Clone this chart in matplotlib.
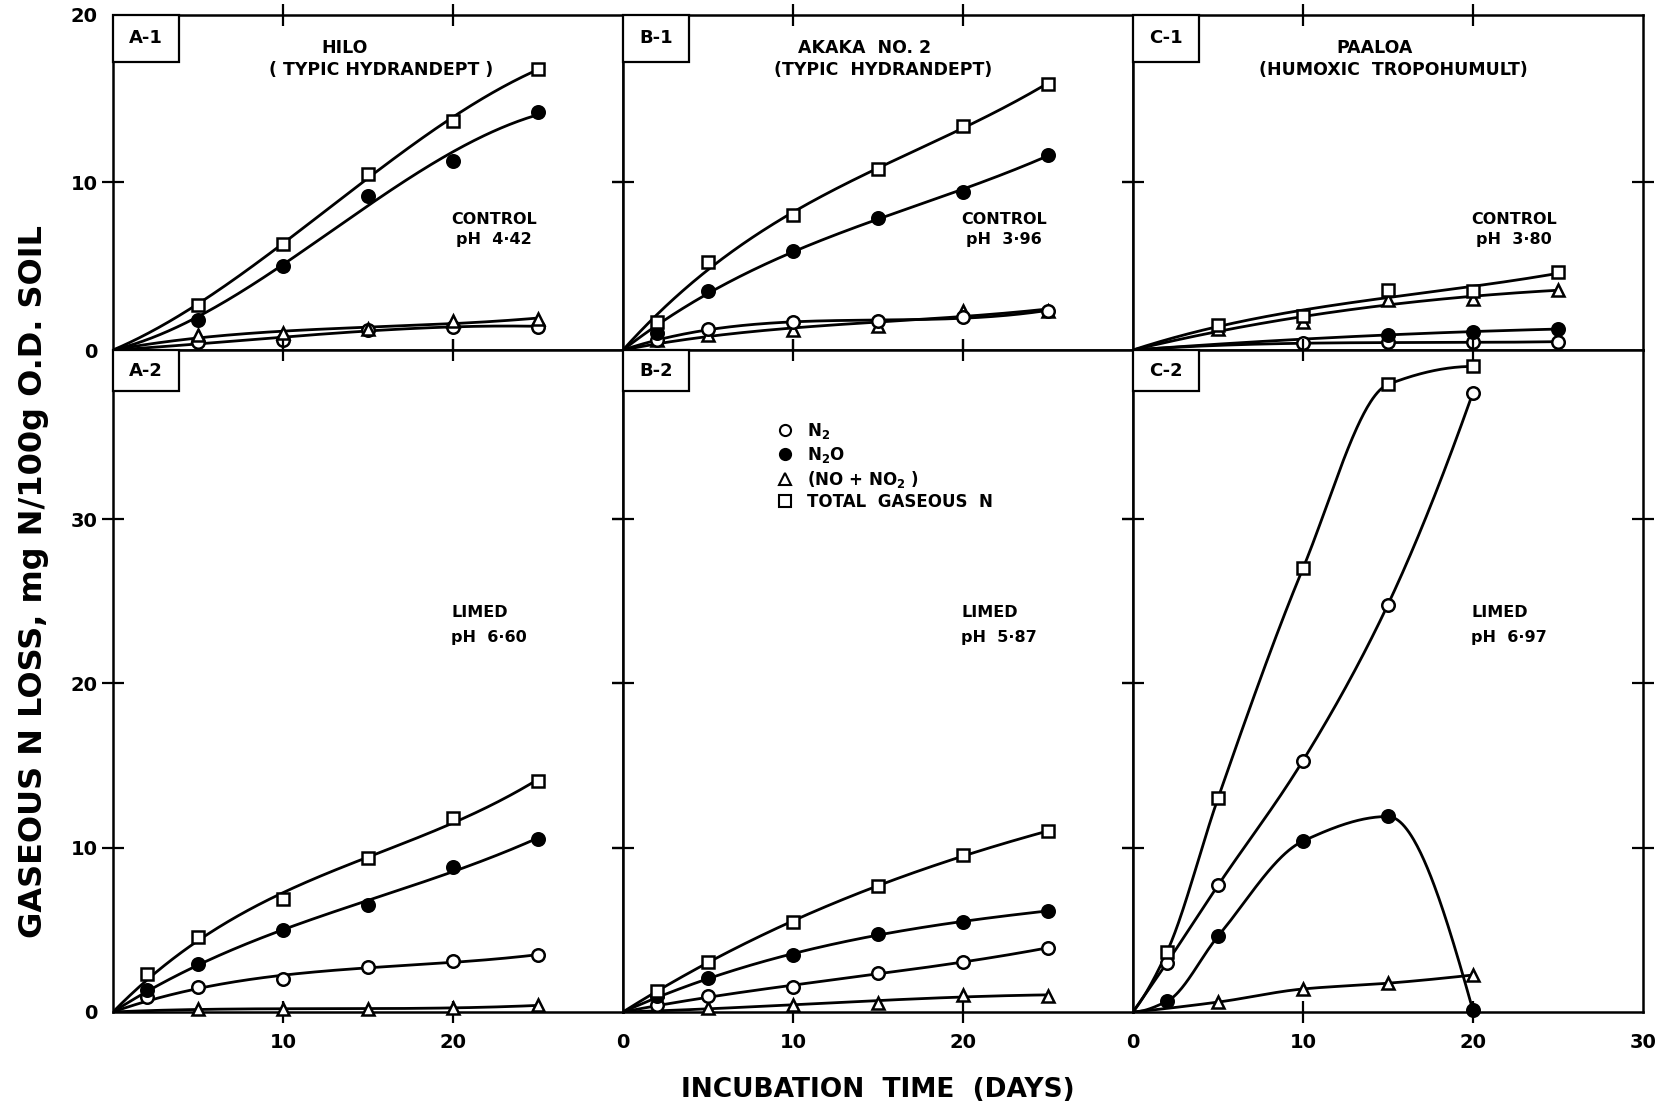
"""
Gaseous N loss from three Hawaiian soils (control vs limed), 6-panel figure.
"""
import matplotlib
matplotlib.use("Agg")
import matplotlib.pyplot as plt
import numpy as np
from matplotlib.lines import Line2D
from matplotlib.patches import Rectangle

plt.rcParams['font.family'] = ['DejaVu Sans']
plt.rcParams['mathtext.default'] = 'bf'

# ---- data (days, mg N / 100 g O.D. soil) ----
# A-1  Hilo, control
a1_days = [5, 10, 15, 20, 25]
a1_n2 = [0.5, 0.6, 1.2, 1.4, 1.4]
a1_n2o = [1.8, 5.0, 9.2, 11.3, 14.2]
a1_nox = [0.9, 1.0, 1.25, 1.75, 1.85]
a1_total = [2.7, 6.3, 10.5, 13.7, 16.8]

# B-1  Akaka No. 2, control
b1_days = [2, 5, 10, 15, 20, 25]
b1_n2 = [0.6, 1.25, 1.65, 1.75, 1.95, 2.35]
b1_n2o = [1.0, 3.55, 5.9, 7.9, 9.45, 11.65]
b1_nox = [0.6, 0.9, 1.2, 1.45, 2.3, 2.35]
b1_total = [1.65, 5.25, 8.05, 10.8, 13.35, 15.9]

# C-1  Paaloa, control
c1_days = [5, 10, 15, 20, 25]
c1_total = [1.5, 2.05, 3.6, 3.5, 4.65]
c1_nox = [1.25, 1.7, 3.0, 3.05, 3.6]
c1_n2o_days = [15, 20, 25]
c1_n2o = [0.9, 1.1, 1.25]
c1_n2_days = [10, 15, 20, 25]
c1_n2 = [0.4, 0.45, 0.45, 0.5]

# A-2  Hilo, limed
a2_days = [2, 5, 10, 15, 20, 25]
a2_total = [2.3, 4.55, 6.9, 9.35, 11.8, 14.05]
a2_n2o = [1.35, 2.95, 5.0, 6.5, 8.85, 10.5]
a2_n2 = [0.9, 1.5, 2.0, 2.75, 3.1, 3.45]
a2_nox_days = [5, 10, 15, 20, 25]
a2_nox = [0.15, 0.2, 0.2, 0.25, 0.4]

# B-2  Akaka No. 2, limed
b2_days = [2, 5, 10, 15, 20, 25]
b2_total = [1.3, 3.05, 5.5, 7.65, 9.55, 11.0]
b2_n2o = [0.95, 2.05, 3.45, 4.75, 5.5, 6.15]
b2_n2 = [0.4, 0.95, 1.55, 2.35, 3.05, 3.9]
b2_nox_days = [5, 10, 15, 20, 25]
b2_nox = [0.25, 0.45, 0.55, 1.05, 1.0]

# C-2  Paaloa, limed
c2_days = [2, 5, 10, 15, 20]
c2_total = [3.65, 13.0, 27.0, 38.2, 39.3]
c2_n2 = [3.0, 7.7, 15.3, 24.8, 37.7]
c2_n2o = [0.65, 4.6, 10.4, 11.9, 0.1]
c2_nox_days = [5, 10, 15, 20]
c2_nox = [0.6, 1.4, 1.75, 2.25]

panel_tags = ['A-1', 'B-1', 'C-1', 'A-2', 'B-2', 'C-2']
soil_names = ['HILO', 'AKAKA  NO. 2', 'PAALOA']
soil_groups = ['( TYPIC HYDRANDEPT )', '(TYPIC  HYDRANDEPT)', '(HUMOXIC  TROPOHUMULT)']
control_ph = ['pH  4·42', 'pH  3·96', 'pH  3·80']
limed_ph = ['pH  6·60', 'pH  5·87', 'pH  6·97']
legend_labels = ['N$_2$', 'N$_2$O', '(NO + NO$_2$ )', 'TOTAL  GASEOUS  N']

STYLE = {
    'n2': dict(marker='o', mfc='white', ms=9),
    'n2o': dict(marker='o', mfc='black', ms=9),
    'nox': dict(marker='^', mfc='white', ms=9),
    'total': dict(marker='s', mfc='white', ms=9),
}


def pchip(x, y, num=300):
    """Monotone cubic curve through the points (Fritsch-Carlson)."""
    x = np.asarray(x, float)
    y = np.asarray(y, float)
    h = np.diff(x)
    d = np.diff(y) / h
    n = len(x)
    m = np.zeros(n)
    for k in range(1, n - 1):
        if d[k - 1] * d[k] > 0:
            w1 = 2 * h[k] + h[k - 1]
            w2 = h[k] + 2 * h[k - 1]
            m[k] = (w1 + w2) / (w1 / d[k - 1] + w2 / d[k])
    m[0] = ((2 * h[0] + h[1]) * d[0] - h[0] * d[1]) / (h[0] + h[1])
    if np.sign(m[0]) != np.sign(d[0]):
        m[0] = 0
    m[-1] = ((2 * h[-1] + h[-2]) * d[-1] - h[-1] * d[-2]) / (h[-1] + h[-2])
    if np.sign(m[-1]) != np.sign(d[-1]):
        m[-1] = 0
    xs = np.linspace(x[0], x[-1], num)
    i = np.clip(np.searchsorted(x, xs) - 1, 0, n - 2)
    t = (xs - x[i]) / h[i]
    ys = ((2 * t**3 - 3 * t**2 + 1) * y[i] + (t**3 - 2 * t**2 + t) * h[i] * m[i]
          + (-2 * t**3 + 3 * t**2) * y[i + 1] + (t**3 - t**2) * h[i] * m[i + 1])
    return xs, ys


def fitted(x, y, num=300):
    """Smooth hand-drawn-style trend: cubic through the origin, least squares."""
    x = np.asarray(x, float)
    y = np.asarray(y, float)
    A = np.vstack([x, x**2, x**3]).T
    coef, *_ = np.linalg.lstsq(A, y, rcond=None)
    xs = np.linspace(0, x[-1], num)
    return xs, coef[0] * xs + coef[1] * xs**2 + coef[2] * xs**3


def draw_series(ax, days, values, kind, smooth='fit'):
    if smooth == 'fit':
        xs, ys = fitted(days, values)
    else:
        xs, ys = pchip([0] + list(days), [0] + list(values))
    ax.plot(xs, ys, color='black', lw=2.0, zorder=2)
    ax.plot(days, values, ls='none', color='black', mec='black', mew=1.8,
            zorder=3, clip_on=False, **STYLE[kind])


def style_axes(ax, ymax, yticks, ylabels, xlabels):
    ax.set_xlim(0, 30)
    ax.set_ylim(0, ymax)
    for s in ax.spines.values():
        s.set_linewidth(1.8)
    ax.set_xticks([0, 10, 20, 30])
    ax.set_xticklabels(xlabels)
    ax.set_yticks(yticks)
    ax.set_yticklabels(ylabels)
    ax.tick_params(direction='inout', length=16, width=1.6, top=True, right=True,
                   labelsize=14)
    ax.tick_params(axis='y', pad=3)
    ax.tick_params(axis='x', pad=7)
    for lab in ax.get_xticklabels() + ax.get_yticklabels():
        lab.set_fontweight('bold')
    # end ticks fall on the frame corners
    xt = ax.xaxis.get_major_ticks()
    for t in (xt[0], xt[-1]):
        t.tick1line.set_visible(False)
        t.tick2line.set_visible(False)
    for t in ax.yaxis.get_major_ticks():
        if t.get_loc() == 0 or t.get_loc() == ymax:
            t.tick1line.set_visible(False)
            t.tick2line.set_visible(False)


def tag(ax, text, h):
    ax.add_patch(Rectangle((0, 1 - h), 0.13, h, transform=ax.transAxes,
                           fc='white', ec='black', lw=1.6, zorder=4, clip_on=False))
    ax.text(0.065, 1 - h / 2, text, transform=ax.transAxes, ha='center', va='center',
            fontsize=13, fontweight='bold', zorder=5)


fig = plt.figure(figsize=(16.72, 11.09), dpi=100)
left, pw = 0.0676, 0.3050
bot, mid, top = 0.0875, 0.6844, 0.9865
top_axes = [fig.add_axes([left + i * pw, mid, pw, top - mid]) for i in range(3)]
bot_axes = [fig.add_axes([left + i * pw, bot, pw, mid - bot]) for i in range(3)]

# top row: control soils
draw_series(top_axes[0], a1_days, a1_n2, 'n2')
draw_series(top_axes[0], a1_days, a1_nox, 'nox')
draw_series(top_axes[0], a1_days, a1_n2o, 'n2o')
draw_series(top_axes[0], a1_days, a1_total, 'total')

draw_series(top_axes[1], b1_days, b1_nox, 'nox')
draw_series(top_axes[1], b1_days, b1_n2, 'n2')
draw_series(top_axes[1], b1_days, b1_n2o, 'n2o')
draw_series(top_axes[1], b1_days, b1_total, 'total')

draw_series(top_axes[2], c1_n2_days, c1_n2, 'n2')
draw_series(top_axes[2], c1_n2o_days, c1_n2o, 'n2o')
draw_series(top_axes[2], c1_days, c1_nox, 'nox')
draw_series(top_axes[2], c1_days, c1_total, 'total')

# bottom row: limed soils
draw_series(bot_axes[0], a2_nox_days, a2_nox, 'nox')
draw_series(bot_axes[0], a2_days, a2_n2, 'n2')
draw_series(bot_axes[0], a2_days, a2_n2o, 'n2o')
draw_series(bot_axes[0], a2_days, a2_total, 'total')

draw_series(bot_axes[1], b2_nox_days, b2_nox, 'nox')
draw_series(bot_axes[1], b2_days, b2_n2, 'n2')
draw_series(bot_axes[1], b2_days, b2_n2o, 'n2o')
draw_series(bot_axes[1], b2_days, b2_total, 'total')

draw_series(bot_axes[2], c2_nox_days, c2_nox, 'nox', smooth='pchip')
draw_series(bot_axes[2], c2_days, c2_n2o, 'n2o', smooth='pchip')
draw_series(bot_axes[2], c2_days, c2_n2, 'n2', smooth='pchip')
draw_series(bot_axes[2], c2_days, c2_total, 'total', smooth='pchip')

name_x = [13.6, 14.2, 14.2]
group_x = [15.8, 15.3, 15.3]
for i, ax in enumerate(top_axes):
    ylab = ['0', '10', '20'] if i == 0 else ['', '', '']
    style_axes(ax, 20, [0, 10, 20], ylab, ['', '', '', ''])
    tag(ax, panel_tags[i], 0.14)
    ax.text(name_x[i], 18.0, soil_names[i], ha='center', va='center', fontsize=12.5,
            fontweight='bold')
    ax.text(group_x[i], 16.7, soil_groups[i], ha='center', va='center', fontsize=12.5,
            fontweight='bold')
    ax.text(22.4, 7.8, 'CONTROL', ha='center', va='center', fontsize=11.5,
            fontweight='bold')
    ax.text(22.4, 6.6, control_ph[i], ha='center', va='center', fontsize=11.5,
            fontweight='bold')

bot_xlabels = [['', '10', '20', ''], ['0', '10', '20', ''], ['0', '10', '20', '30']]
for i, ax in enumerate(bot_axes):
    ylab = ['0', '10', '20', '30'] if i == 0 else ['', '', '', '']
    style_axes(ax, 40.3, [0, 10, 20, 30], ylab, bot_xlabels[i])
    tag(ax, panel_tags[3 + i], 0.062)
    ax.text(19.9, 24.3, 'LIMED', ha='left', va='center', fontsize=11.5,
            fontweight='bold')
    ax.text(19.9, 22.8, limed_ph[i], ha='left', va='center', fontsize=11.5,
            fontweight='bold')

handles = [Line2D([], [], ls='none', color='black', mec='black', mew=1.5,
                  **dict(STYLE[k], ms=8)) for k in ['n2', 'n2o', 'nox', 'total']]
bot_axes[1].legend(handles, legend_labels, loc='upper left',
                   bbox_to_anchor=(0.285, 0.905), frameon=False,
                   prop={'size': 12, 'weight': 'bold'},
                   handlelength=1.0, handletextpad=0.8, labelspacing=0.22,
                   borderpad=0)

fig.text(0.0203, 0.476, 'GASEOUS N LOSS, mg N/100g O.D. SOIL', rotation=90,
         ha='center', va='center', fontsize=23, fontweight='bold')
fig.text(0.525, 0.017, 'INCUBATION  TIME  (DAYS)', ha='center', va='center',
         fontsize=19, fontweight='bold')

fig.savefig('out.png', dpi=100)
